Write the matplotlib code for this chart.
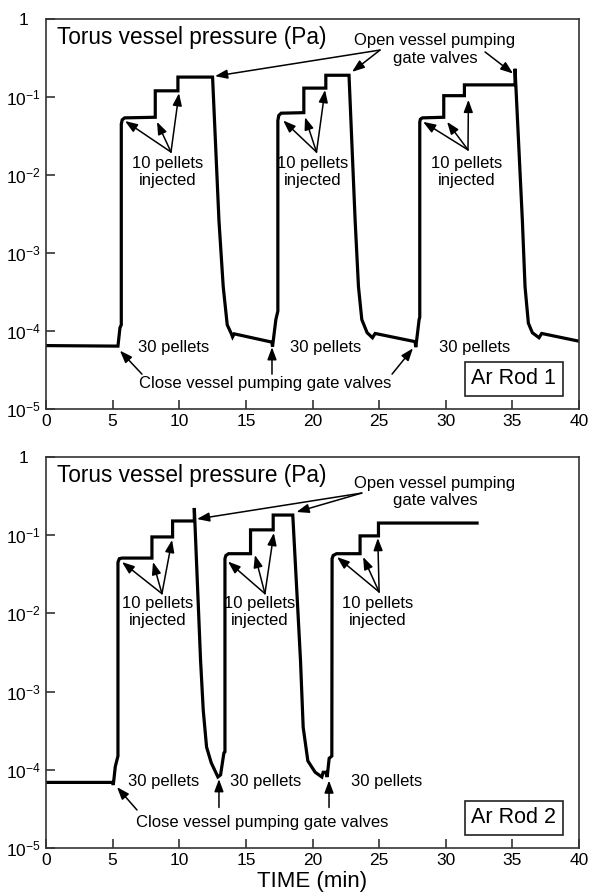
import matplotlib
matplotlib.use("Agg")
import matplotlib.pyplot as plt

plt.rcParams['font.family'] = ['Liberation Sans', 'DejaVu Sans']
plt.rcParams['mathtext.fontset'] = 'custom'
plt.rcParams['mathtext.rm'] = 'Liberation Sans'
plt.rcParams['mathtext.it'] = 'Liberation Sans:italic'
plt.rcParams['mathtext.bf'] = 'Liberation Sans:bold'

# ---------------- data ----------------
rod1_time = [0.0, 5.4, 5.55, 5.65, 5.65, 5.72, 5.9, 8.2, 8.2, 9.9, 9.9, 12.5,
             12.98, 13.3, 13.6, 13.9, 14.0, 14.12, 16.95, 17.0, 17.25, 17.4,
             17.4, 17.47, 17.65, 19.35, 19.35, 21.0, 21.0, 22.74,
             23.2, 23.45, 23.7, 24.1, 24.5, 24.7, 27.7, 27.75, 27.9, 28.0,
             28.05, 28.05, 28.1, 28.25, 29.85, 29.85, 31.4, 31.4, 35.2,
             35.2, 35.75, 35.95, 36.2, 36.5, 37.0, 37.2, 40.0]
rod1_pressure = [6.5e-5, 6.4e-5, 1.1e-4, 1.2e-4, 0.045, 0.051, 0.054, 0.055, 0.12, 0.12, 0.18, 0.18,
                 2.6e-3, 3.7e-4, 1.2e-4, 9.3e-5, 8.4e-5, 9.2e-5, 7.2e-5, 6.3e-5, 1.4e-4, 1.8e-4,
                 0.05, 0.058, 0.062, 0.063, 0.13, 0.13, 0.19, 0.19,
                 2.6e-3, 3.7e-4, 1.4e-4, 9.5e-5, 8.2e-5, 9.3e-5, 7.3e-5, 6.2e-5, 1.0e-4, 1.4e-4,
                 1.5e-4, 0.048, 0.052, 0.054, 0.055, 0.104, 0.104, 0.143, 0.143,
                 0.23, 2.6e-3, 3.7e-4, 1.26e-4, 9.5e-5, 8.2e-5, 9.3e-5, 7.4e-5]

rod2_time = [0.0, 5.0, 5.05, 5.2, 5.4, 5.4, 5.5, 5.7, 7.95, 7.95, 9.5, 9.5, 11.13,
             11.13, 11.6, 11.8, 12.05, 12.4, 12.9, 13.1, 13.35, 13.43,
             13.43, 13.5, 13.7, 15.35, 15.35, 17.05, 17.05, 18.52,
             19.1, 19.3, 19.65, 20.2, 20.7, 20.8, 21.0, 21.1, 21.25, 21.45,
             21.47, 21.55, 21.8, 23.57, 23.57, 24.95, 24.95, 32.35]
rod2_pressure = [6.9e-5, 6.9e-5, 6.4e-5, 1.1e-4, 1.5e-4, 0.045, 0.05, 0.051, 0.051, 0.095, 0.095, 0.152, 0.152,
                 0.223, 2.5e-3, 5.8e-4, 1.95e-4, 1.23e-4, 8.1e-5, 8.6e-5, 1.64e-4, 1.7e-4,
                 0.05, 0.055, 0.058, 0.058, 0.117, 0.117, 0.181, 0.181,
                 2.5e-3, 3.5e-4, 1.3e-4, 9.3e-5, 8.1e-5, 9.3e-5, 9.3e-5, 8.1e-5, 1.4e-4, 1.5e-4,
                 0.05, 0.055, 0.058, 0.058, 0.098, 0.098, 0.143, 0.143]

x_ticks = [0, 5, 10, 15, 20, 25, 30, 35, 40]
y_ticks = [1e-5, 1e-4, 1e-3, 1e-2, 1e-1, 1]
y_tick_labels = [r'$10^{-5}$', r'$10^{-4}$', r'$10^{-3}$', r'$10^{-2}$', r'$10^{-1}$', '1']
panel_labels = ['Ar Rod 1', 'Ar Rod 2']
# ---------------------------------------

fig = plt.figure(figsize=(5.9, 8.94), dpi=100)
ax1 = fig.add_axes([46/590, 1-409/894, 533/590, 390/894])
ax2 = fig.add_axes([46/590, 1-848/894, 533/590, 391/894])

FS_ANN = 12
spine_c = '#333333'

def style(ax):
    ax.set_yscale('log')
    ax.set_xlim(0, 40)
    ax.set_ylim(1e-5, 1)
    ax.set_xticks(x_ticks)
    ax.set_xticklabels([str(t) for t in x_ticks])
    ax.set_yticks(y_ticks)
    ax.set_yticklabels(y_tick_labels)
    ax.minorticks_off()
    ax.tick_params(axis='both', direction='in', length=6.5, width=1.2, color=spine_c,
                   labelsize=12.5)
    ax.tick_params(axis='x', pad=3.5)
    ax.tick_params(axis='y', pad=16)
    for lbl in ax.get_yticklabels():
        lbl.set_horizontalalignment('center')
    for s in ax.spines.values():
        s.set_color(spine_c)
        s.set_linewidth(1.2)

def arrow(ax, src, dst):
    ax.annotate('', xy=dst, xytext=src,
                arrowprops=dict(arrowstyle='-|>,head_length=0.62,head_width=0.23',
                                color='black', lw=1.1, shrinkA=0, shrinkB=0,
                                mutation_scale=12))

for ax, t, p, lab in [(ax1, rod1_time, rod1_pressure, panel_labels[0]),
                      (ax2, rod2_time, rod2_pressure, panel_labels[1])]:
    style(ax)
    ax.plot(t, p, color='black', lw=2.3, solid_joinstyle='miter')
    ax.text(0.0206, 0.937, 'Torus vessel pressure (Pa)', transform=ax.transAxes,
            fontsize=16.3, va='baseline', ha='left')
    ax.text(35.1, 2.45e-5, lab, fontsize=15.5, ha='center', va='center',
            bbox=dict(boxstyle='square,pad=0.3', fc='white', ec='#222222', lw=1.2))

# ---- top panel annotations ----
ax1.text(29.19, 0.406, 'Open vessel pumping\ngate valves', fontsize=FS_ANN,
         ha='center', va='center', multialignment='center')
arrow(ax1, (25.07, 0.40), (12.68, 0.185))
arrow(ax1, (25.07, 0.40), (22.97, 0.21))
arrow(ax1, (32.95, 0.378), (35.05, 0.20))

for cx, src, tips in [(9.16, (9.38, 0.0197), [(5.93, 0.0492), (8.33, 0.048), (9.98, 0.112)]),
                      (19.98, (20.3, 0.0197), [(17.8, 0.05), (19.44, 0.055), (20.94, 0.123)]),
                      (31.6, (31.67, 0.021), [(28.3, 0.048), (30.1, 0.048), (31.7, 0.092)])]:
    ax1.text(cx, 0.011, '10 pellets\ninjected', fontsize=FS_ANN, ha='center',
             va='center', multialignment='center')
    for tip in tips:
        arrow(ax1, src, tip)

for cx in [9.57, 21.0, 32.2]:
    ax1.text(cx, 6.2e-5, '30 pellets', fontsize=FS_ANN, ha='center', va='center')
ax1.text(16.43, 2.1e-5, 'Close vessel pumping gate valves', fontsize=FS_ANN,
         ha='center', va='center')
arrow(ax1, (7.2, 2.8e-5), (5.55, 5.6e-5))
arrow(ax1, (16.96, 2.8e-5), (16.96, 6.2e-5))
arrow(ax1, (25.97, 2.8e-5), (27.54, 6.0e-5))

# ---- bottom panel annotations ----
ax2.text(29.19, 0.357, 'Open vessel pumping\ngate valves', fontsize=FS_ANN,
         ha='center', va='center', multialignment='center')
arrow(ax2, (23.7, 0.346), (11.33, 0.161))
arrow(ax2, (23.7, 0.346), (18.8, 0.198))

for cx, src, tips in [(8.4, (8.7, 0.0179), [(5.7, 0.0454), (8.03, 0.0454), (9.46, 0.087)]),
                      (16.0, (16.43, 0.0179), [(13.66, 0.046), (15.68, 0.0558), (17.1, 0.107)]),
                      (24.9, (25.0, 0.0188), [(21.84, 0.0526), (23.8, 0.0526), (24.9, 0.092)])]:
    ax2.text(cx, 0.0104, '10 pellets\ninjected', fontsize=FS_ANN, ha='center',
             va='center', multialignment='center')
    for tip in tips:
        arrow(ax2, src, tip)

for cx in [8.86, 16.5, 25.55]:
    ax2.text(cx, 7.0e-5, '30 pellets', fontsize=FS_ANN, ha='center', va='center')
ax2.text(16.2, 2.1e-5, 'Close vessel pumping gate valves', fontsize=FS_ANN,
         ha='center', va='center')
arrow(ax2, (6.83, 3.06e-5), (5.33, 6.0e-5))
arrow(ax2, (12.98, 3.3e-5), (12.98, 7.6e-5))
arrow(ax2, (21.24, 3.3e-5), (21.24, 7.3e-5))

ax2.set_xlabel('TIME (min)', fontsize=16, labelpad=2)

fig.savefig('out.png', dpi=100)
